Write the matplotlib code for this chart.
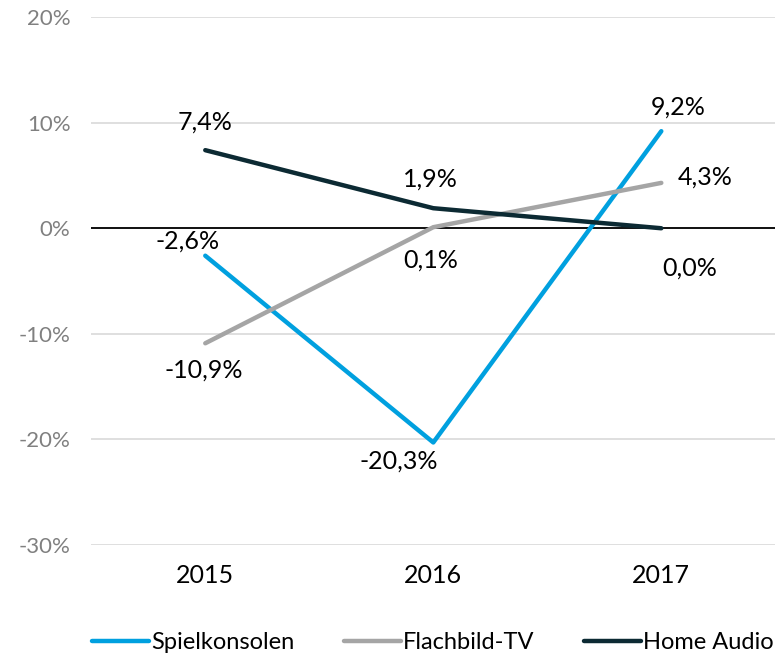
import matplotlib.pyplot as plt

plt.rcParams['font.family'] = ['Lato', 'DejaVu Sans']

years = ["2015", "2016", "2017"]
spiel = [-2.6, -20.3, 9.2]
flach = [-10.9, 0.1, 4.3]
audio = [7.4, 1.9, 0.0]
names = ["Spielkonsolen", "Flachbild-TV", "Home Audio"]
colors = ["#00A0DF", "#A5A5A5", "#0C2A33"]
# label placement per point, in pixels: (dx, dy)
offsets = [
    [(-18, 15), (-35, -19), (17, 24)],
    [(-2, -27), (-3, -33), (44, 6)],
    [(0, 28), (-3, 29), (28, -40)],
]

fig = plt.figure(figsize=(7.8, 6.62), dpi=100)
ax = fig.add_axes([0.117, 0.177, 0.877, 0.797])

x = range(len(years))
ax.axhline(0, color="black", lw=1.3, zorder=2)
for vals, name, c, offs in zip([spiel, flach, audio], names, colors, offsets):
    ax.plot(x, vals, color=c, lw=3.2, label=name, zorder=3, solid_capstyle="round")
    for xi, v, (dx, dy) in zip(x, vals, offs):
        txt = f"{v:.1f}%".replace(".", ",")
        ax.annotate(txt, (xi, v), xytext=(dx, dy), textcoords="offset pixels",
                    ha="center", va="center", fontsize=18, color="black")

ax.set_xlim(-0.5, 2.5)
ax.set_ylim(-30, 20)
ax.set_yticks(range(-30, 21, 10))
ax.set_yticklabels([f"{t}%" for t in range(-30, 21, 10)], color="#808080", fontsize=16)
ax.set_xticks(list(x))
ax.set_xticklabels(years, fontsize=18)
ax.grid(axis="y", color="#D9D9D9", lw=1.2, zorder=0)
for s in ax.spines.values():
    s.set_visible(False)
ax.tick_params(length=0)
ax.tick_params(axis="y", pad=15)
ax.tick_params(axis="x", pad=14)

ax.legend(loc="center", bbox_to_anchor=(0.5, -0.186), ncol=3, frameon=False,
          fontsize=17, handlelength=2.4, handletextpad=0.1, columnspacing=2.1)

fig.savefig("out.png", dpi=100)
